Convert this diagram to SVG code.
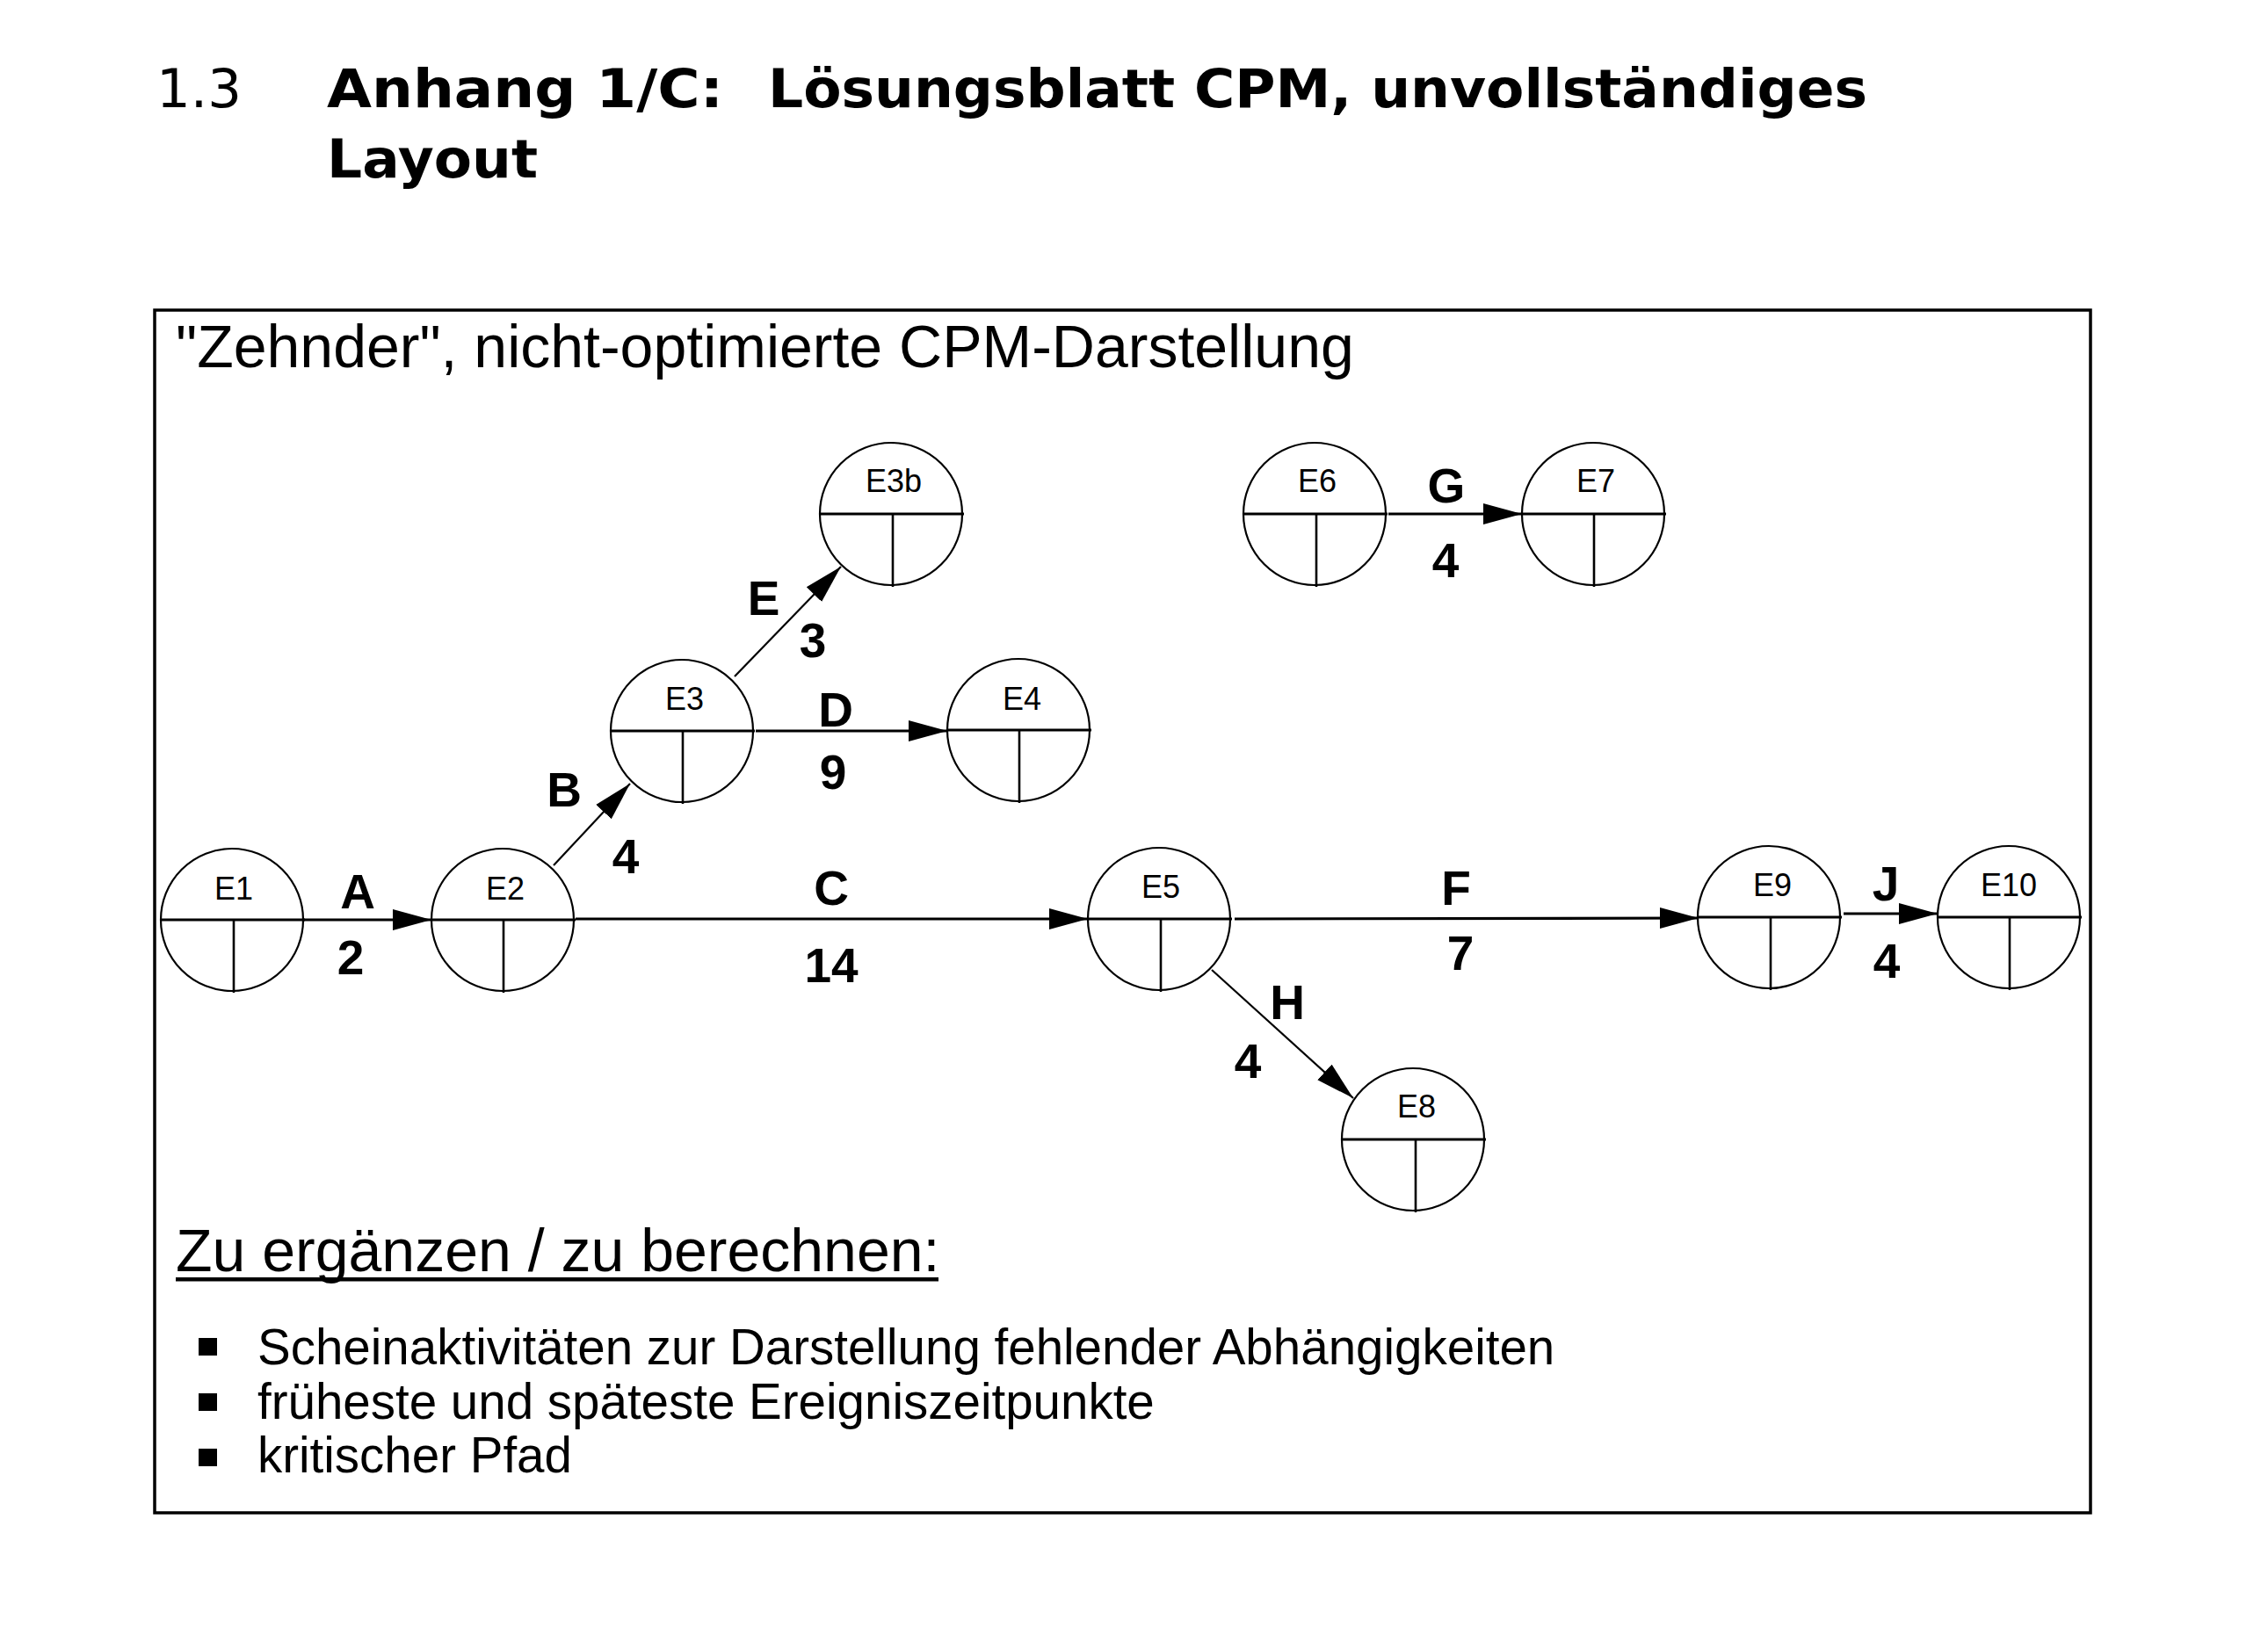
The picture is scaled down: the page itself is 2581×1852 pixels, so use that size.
<svg xmlns="http://www.w3.org/2000/svg" width="2581" height="1852" viewBox="0 0 2581 1852">
<style>
.bg{fill:#fff}
.title{font-family:"DejaVu Sans","Verdana",sans-serif;font-size:61px;fill:#000}
.tb{font-weight:bold}
.sub{font-family:"Liberation Sans",Arial,sans-serif;font-size:68px;fill:#000}
.bul{font-family:"Liberation Sans",Arial,sans-serif;font-size:56.5px;fill:#000}
.nl{font-family:"Liberation Sans",Arial,sans-serif;font-size:36px;fill:#000;text-anchor:middle}
.al{font-family:"Liberation Sans",Arial,sans-serif;font-size:55px;font-weight:bold;fill:#000;text-anchor:middle}
.circ{fill:none;stroke:#000;stroke-width:2.2}
.hl{stroke:#000;stroke-width:3.2}
.vl{stroke:#000;stroke-width:2.6}
.ch{stroke:#000;stroke-width:3.2;fill:none}
.cd{stroke:#000;stroke-width:2.2;fill:none}
</style>
<defs>
<marker id="ah" markerUnits="userSpaceOnUse" markerWidth="45" markerHeight="26" viewBox="0 0 45 26" refX="44" refY="13" orient="auto">
<path d="M0,1 L44,13 L0,25 z" fill="#000"/>
</marker>
</defs>
<rect class="bg" x="0" y="0" width="2581" height="1852"/>
<text class="title" x="178" y="122">1.3</text>
<text class="title tb" x="372" y="122" textLength="451" lengthAdjust="spacingAndGlyphs">Anhang 1/C:</text>
<text class="title tb" x="874" y="122" textLength="1251" lengthAdjust="spacingAndGlyphs">Lösungsblatt CPM, unvollständiges</text>
<text class="title tb" x="372" y="202" textLength="240" lengthAdjust="spacingAndGlyphs">Layout</text>
<rect x="176" y="353" width="2203" height="1369" fill="none" stroke="#000" stroke-width="3.5"/>
<text class="sub" x="200" y="418">"Zehnder", nicht-optimierte CPM-Darstellung</text>
<g id="connectors">
<line class="ch" x1="344" y1="1047" x2="491" y2="1047" marker-end="url(#ah)"/>
<line class="cd" x1="630" y1="985" x2="717" y2="892" marker-end="url(#ah)"/>
<line class="ch" x1="655" y1="1046" x2="1238" y2="1046" marker-end="url(#ah)"/>
<line class="ch" x1="860" y1="832" x2="1078" y2="832" marker-end="url(#ah)"/>
<line class="cd" x1="836" y1="770" x2="957" y2="645" marker-end="url(#ah)"/>
<line class="ch" x1="1405" y1="1046" x2="1933" y2="1045" marker-end="url(#ah)"/>
<line class="ch" x1="1580" y1="585" x2="1732" y2="585" marker-end="url(#ah)"/>
<line class="cd" x1="1379" y1="1104" x2="1540" y2="1250" marker-end="url(#ah)"/>
<line class="ch" x1="2098" y1="1040" x2="2205" y2="1040" marker-end="url(#ah)"/>
<text class="al" x="407" y="1034">A</text>
<text class="al" x="399" y="1109">2</text>
<text class="al" x="642" y="918">B</text>
<text class="al" x="712" y="994">4</text>
<text class="al" x="946" y="1030">C</text>
<text class="al" x="946" y="1118">14</text>
<text class="al" x="951" y="827">D</text>
<text class="al" x="948" y="898">9</text>
<text class="al" x="869" y="700">E</text>
<text class="al" x="925" y="748">3</text>
<text class="al" x="1657" y="1030">F</text>
<text class="al" x="1662" y="1104">7</text>
<text class="al" x="1646" y="572">G</text>
<text class="al" x="1645" y="657">4</text>
<text class="al" x="1465" y="1160">H</text>
<text class="al" x="1420" y="1227">4</text>
<text class="al" x="2146" y="1025">J</text>
<text class="al" x="2147" y="1113">4</text>
</g>
<g id="E1" transform="translate(264,1047)">
<circle class="circ" r="81"/><line class="hl" x1="-81" y1="0" x2="83" y2="0"/><line class="vl" x1="2" y1="0" x2="2" y2="83"/>
<text class="nl" x="2" y="-23">E1</text></g>
<g id="E2" transform="translate(572,1047)">
<circle class="circ" r="81"/><line class="hl" x1="-81" y1="0" x2="83" y2="0"/><line class="vl" x1="1" y1="0" x2="1" y2="83"/>
<text class="nl" x="3" y="-23">E2</text></g>
<g id="E3" transform="translate(776,832)">
<circle class="circ" r="81"/><line class="hl" x1="-81" y1="0" x2="83" y2="0"/><line class="vl" x1="1" y1="0" x2="1" y2="83"/>
<text class="nl" x="3" y="-24">E3</text></g>
<g id="E3b" transform="translate(1014,585)">
<circle class="circ" r="81"/><line class="hl" x1="-81" y1="0" x2="83" y2="0"/><line class="vl" x1="2" y1="0" x2="2" y2="83"/>
<text class="nl" x="3" y="-25">E3b</text></g>
<g id="E4" transform="translate(1159,831)">
<circle class="circ" r="81"/><line class="hl" x1="-81" y1="0" x2="83" y2="0"/><line class="vl" x1="1" y1="0" x2="1" y2="83"/>
<text class="nl" x="4" y="-23">E4</text></g>
<g id="E5" transform="translate(1319,1046)">
<circle class="circ" r="81"/><line class="hl" x1="-81" y1="0" x2="83" y2="0"/><line class="vl" x1="2" y1="0" x2="2" y2="83"/>
<text class="nl" x="2" y="-24">E5</text></g>
<g id="E6" transform="translate(1496,585)">
<circle class="circ" r="81"/><line class="hl" x1="-81" y1="0" x2="83" y2="0"/><line class="vl" x1="2" y1="0" x2="2" y2="83"/>
<text class="nl" x="3" y="-25">E6</text></g>
<g id="E7" transform="translate(1813,585)">
<circle class="circ" r="81"/><line class="hl" x1="-81" y1="0" x2="83" y2="0"/><line class="vl" x1="1" y1="0" x2="1" y2="83"/>
<text class="nl" x="3" y="-25">E7</text></g>
<g id="E8" transform="translate(1608,1297)">
<circle class="circ" r="81"/><line class="hl" x1="-81" y1="0" x2="83" y2="0"/><line class="vl" x1="3" y1="0" x2="3" y2="83"/>
<text class="nl" x="4" y="-25">E8</text></g>
<g id="E9" transform="translate(2013,1044)">
<circle class="circ" r="81"/><line class="hl" x1="-81" y1="0" x2="83" y2="0"/><line class="vl" x1="2" y1="0" x2="2" y2="83"/>
<text class="nl" x="4" y="-24">E9</text></g>
<g id="E10" transform="translate(2286,1044)">
<circle class="circ" r="81"/><line class="hl" x1="-81" y1="0" x2="83" y2="0"/><line class="vl" x1="1" y1="0" x2="1" y2="83"/>
<text class="nl" x="0" y="-24">E10</text></g>
<text class="sub" x="200" y="1447">Zu ergänzen / zu berechnen:</text>
<rect x="200" y="1454" width="868" height="4.5" fill="#000"/>
<rect x="226" y="1523" width="21" height="20" fill="#000"/>
<rect x="226" y="1586" width="21" height="20" fill="#000"/>
<rect x="226" y="1649" width="21" height="20" fill="#000"/>
<text class="bul" x="293" y="1553">Scheinaktivitäten zur Darstellung fehlender Abhängigkeiten</text>
<text class="bul" x="293" y="1615">früheste und späteste Ereigniszeitpunkte</text>
<text class="bul" x="293" y="1676">kritischer Pfad</text>
</svg>
